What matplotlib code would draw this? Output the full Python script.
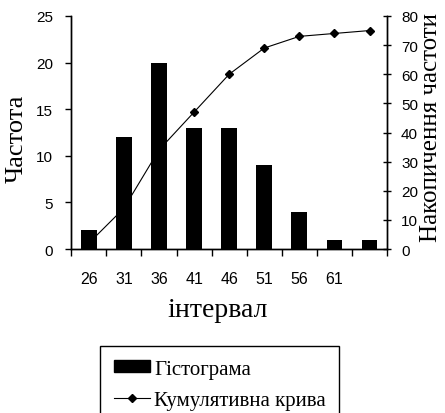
import matplotlib
matplotlib.use("Agg")
import matplotlib.pyplot as plt
from matplotlib.lines import Line2D
from matplotlib.patches import Patch

# data
bins = ["26", "31", "36", "41", "46", "51", "56", "61", ""]
frequency = [2, 12, 20, 13, 13, 9, 4, 1, 1]
cumulative = [2, 14, 34, 47, 60, 69, 73, 74, 75]

serif = "Liberation Serif"
narrow = ["Liberation Sans Narrow", "Liberation Sans"]

fig = plt.figure(figsize=(4.45, 4.14), dpi=100)
ax = fig.add_axes([0.160, 0.396, 0.710, 0.563])
ax2 = ax.twinx()

positions = list(range(len(bins)))
ax.bar(positions, frequency, width=0.45, color="black", zorder=2)
ax2.plot(positions, cumulative, color="black", linewidth=0.8,
         marker="D", markersize=4.5, zorder=3)

ax.set_xlim(-0.5, len(bins) - 0.5)
ax.set_ylim(0, 25)
ax.set_yticks(range(0, 26, 5))
ax2.set_ylim(0, 80)
ax2.set_yticks(range(0, 81, 10))

# ticks on category boundaries, labels at centres
ax.set_xticks([p - 0.5 for p in range(len(bins) + 1)])
ax.set_xticklabels([])
ax.set_xticks(positions, minor=True)
ax.set_xticklabels(bins, minor=True, fontfamily=narrow, fontsize=11.5)
ax.tick_params(axis="x", which="minor", length=0, pad=16)
ax.tick_params(axis="x", which="major", length=5, width=1, direction="out")
ax.tick_params(axis="y", length=4, width=1, direction="out", pad=9)
ax2.tick_params(axis="y", length=6, width=1, direction="inout", pad=7)
for lab in ax.get_yticklabels() + ax2.get_yticklabels():
    lab.set_fontfamily(narrow)
    lab.set_fontsize(11)

for a in (ax, ax2):
    a.spines["top"].set_visible(False)
    for s in ("left", "right", "bottom"):
        a.spines[s].set_linewidth(1)

ax.set_ylabel("Частота", fontfamily=serif, fontsize=19)
ax.yaxis.set_label_coords(-0.139, 0.478)
ax2.set_ylabel("Накопичення частоти", fontfamily=serif, fontsize=18)
ax2.yaxis.set_label_coords(1.105, 0.526)
ax.set_xlabel("інтервал", fontfamily=serif, fontsize=20)
ax.xaxis.set_label_coords(0.462, -0.205)

handles = [
    Patch(facecolor="black", edgecolor="black"),
    Line2D([], [], color="black", linewidth=0.8, marker="D", markersize=4.5),
]
leg = fig.legend(handles, ["Гістограма", "Кумулятивна крива"],
                 loc="upper left", bbox_to_anchor=(100 / 445, 1 - 347 / 414),
                 prop={"family": serif, "size": 15}, frameon=True,
                 fancybox=False, edgecolor="black", framealpha=1,
                 borderpad=0.65, labelspacing=0.6, handlelength=1.75,
                 handletextpad=0.2, handleheight=0.5, borderaxespad=0)
leg.get_frame().set_linewidth(1)

fig.savefig("out.png", dpi=100)
